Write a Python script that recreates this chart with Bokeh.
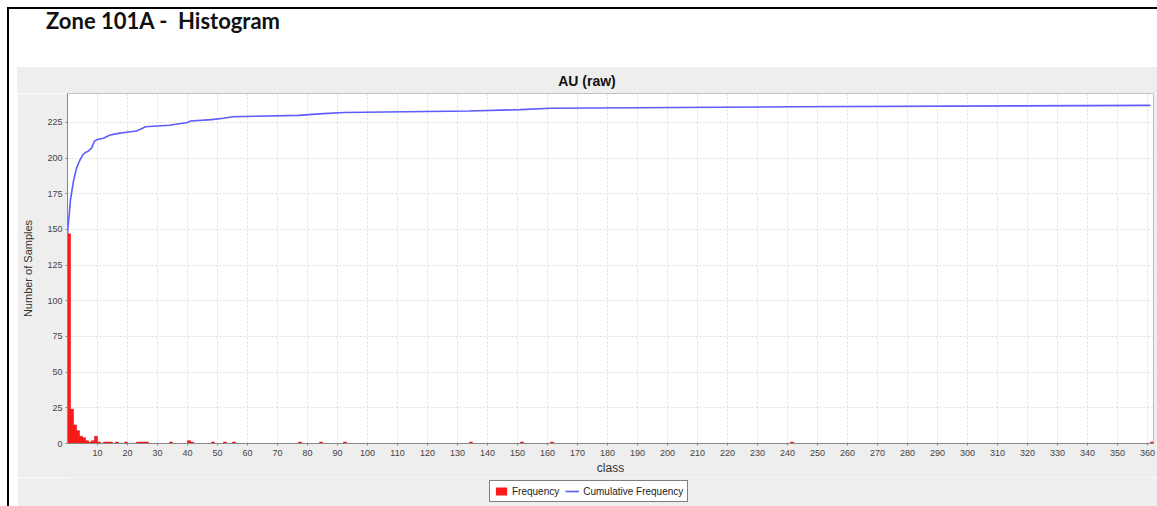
import numpy as np
from bokeh.plotting import figure
from bokeh.models import (ColumnDataSource, FixedTicker, Legend, LegendItem, Div, Spacer)
from bokeh.layouts import column, row
from bokeh.embed import file_html
from bokeh.resources import INLINE

# ---- data ----
title_text = "Zone 101A -&nbsp; Histogram"
chart_title = "AU (raw)"
freq_class = [0, 1, 2, 3, 4, 5, 6, 7, 8, 9, 10, 12, 13, 14, 16, 19, 23, 24, 25, 26,
              34, 40, 41, 48, 52, 55, 77, 84, 92, 134, 151, 161, 241, 361]
freq_count = [147, 24, 13, 9, 5, 4, 2, 1, 2, 5, 1, 1, 1, 1, 1, 1, 1, 1, 1, 1,
              1, 2, 1, 1, 1, 1, 1, 1, 1, 1, 1, 1, 1, 1]
x_ticks = list(range(10, 361, 10))
y_ticks = list(range(0, 226, 25))
legend_labels = ["Frequency", "Cumulative Frequency"]

cum_count = list(np.cumsum(freq_count))

bars = ColumnDataSource(dict(left=freq_class,
                             right=[c + 1 for c in freq_class],
                             top=freq_count,
                             bottom=[0] * len(freq_class)))
cum = ColumnDataSource(dict(x=freq_class, y=cum_count))

FONT = "Liberation Sans"
BAR_COLOR = "#ff1a1a"
LINE_COLOR = "#5c5cff"
PANEL = "#eeeeee"

p = figure(width=1140, height=384, x_range=(0, 362), y_range=(0, 245.3),
           output_backend="svg", toolbar_location=None, margin=0,
           min_border_left=50, min_border_right=4, min_border_top=0, min_border_bottom=34)
p.background_fill_color = "white"
p.border_fill_color = PANEL
p.outline_line_color = "#c0c0c0"
p.outline_line_width = 1

r_bar = p.quad(left="left", right="right", top="top", bottom="bottom", source=bars,
               fill_color=BAR_COLOR, line_color="#e00000", line_width=0.5)
r_cum = p.line(x="x", y="y", source=cum, line_color=LINE_COLOR, line_width=1.6)

for ax in (p.xaxis[0], p.yaxis[0]):
    ax.axis_line_color = "#888888"
    ax.major_tick_line_color = "#888888"
    ax.major_tick_out = 2
    ax.major_tick_in = 0
    ax.minor_tick_line_color = None
    ax.major_label_text_font = FONT
    ax.major_label_text_font_size = "9px"
    ax.major_label_text_color = "#444444"
    ax.axis_label_text_font = FONT
    ax.axis_label_text_font_style = "normal"
    ax.axis_label_text_color = "#333333"

p.xaxis.ticker = FixedTicker(ticks=x_ticks)
p.yaxis.ticker = FixedTicker(ticks=y_ticks)
p.xaxis.axis_label = "class"
p.xaxis.axis_label_text_font_size = "12px"
p.xaxis.axis_label_standoff = 2
p.xaxis.major_label_standoff = 4
p.yaxis.axis_label = "Number of Samples"
p.yaxis.axis_label_text_font_size = "11px"
p.yaxis.axis_label_standoff = 10
p.yaxis.major_label_standoff = 3

for g in (p.xgrid[0], p.ygrid[0]):
    g.grid_line_color = "#dcdcdc"
    g.grid_line_dash = "2 2"
    g.grid_line_width = 1

# ---- legend strip (separate figure so the legend is not clipped) ----
# the same data sources are reused, but this strip's ranges keep them out of view
p2 = figure(width=1140, height=29, x_range=(-20, -10), y_range=(-20, -10),
            output_backend="svg", toolbar_location=None, margin=0,
            x_axis_type=None, y_axis_type=None,
            min_border_left=0, min_border_right=0, min_border_top=0, min_border_bottom=0)
p2.background_fill_color = PANEL
p2.border_fill_color = PANEL
p2.outline_line_color = None
p2.xgrid.visible = False
p2.ygrid.visible = False
lg_bar = p2.quad(left="left", right="right", top="top", bottom="bottom", source=bars,
                 fill_color=BAR_COLOR, line_color=None)
lg_line = p2.line(x="x", y="y", source=cum, line_color=LINE_COLOR, line_width=1.6)

legend = Legend(items=[LegendItem(label=legend_labels[0], renderers=[lg_bar]),
                       LegendItem(label=legend_labels[1], renderers=[lg_line])],
                location=(422, 4), orientation="horizontal")
legend.border_line_color = "#000000"
legend.border_line_width = 1
legend.background_fill_color = "white"
legend.background_fill_alpha = 1
legend.label_text_font = FONT
legend.label_text_font_size = "10px"
legend.label_text_color = "#222222"
legend.padding = 4
legend.margin = 0
legend.spacing = 6
legend.glyph_width = 14
legend.glyph_height = 10
legend.label_height = 12
legend.label_standoff = 4
p2.add_layout(legend, "center")

black_top = Div(text='<div style="width:1150px;height:2px;background:#000"></div>',
                width=1150, height=2, margin=0, styles={"background-color": "black"})
black_left = Div(text='<div style="width:2px;height:497px;background:#000"></div>',
                 width=2, height=497, margin=0, styles={"background-color": "black"})
title_div = Div(text=('<div style="margin-left:37px;padding-top:1px;font-family:Lato;'
                      'font-weight:bold;font-size:22px;line-height:22px;color:#111111;'
                      'white-space:nowrap">' + title_text + '</div>'),
                width=1148, height=58, margin=0, styles={"background-color": "white"})
sub_div = Div(text=('<div style="width:1140px;height:26px;line-height:28px;text-align:center;'
                    'font-family:\'Liberation Sans\';font-weight:bold;font-size:14px;'
                    'color:#111111;background:#eeeeee">' + chart_title + '</div>'),
              width=1140, height=26, margin=0, styles={"background-color": PANEL})

layout = column(
    black_top,
    row(black_left,
        column(title_div,
               row(Spacer(width=8, height=439, margin=0),
                   column(sub_div, p, p2, spacing=0, margin=0), spacing=0, margin=0),
               spacing=0, margin=0),
        spacing=0, margin=0),
    spacing=0, margin=(7, 0, 0, 7))

open("out.html", "w").write(file_html(layout, INLINE))
